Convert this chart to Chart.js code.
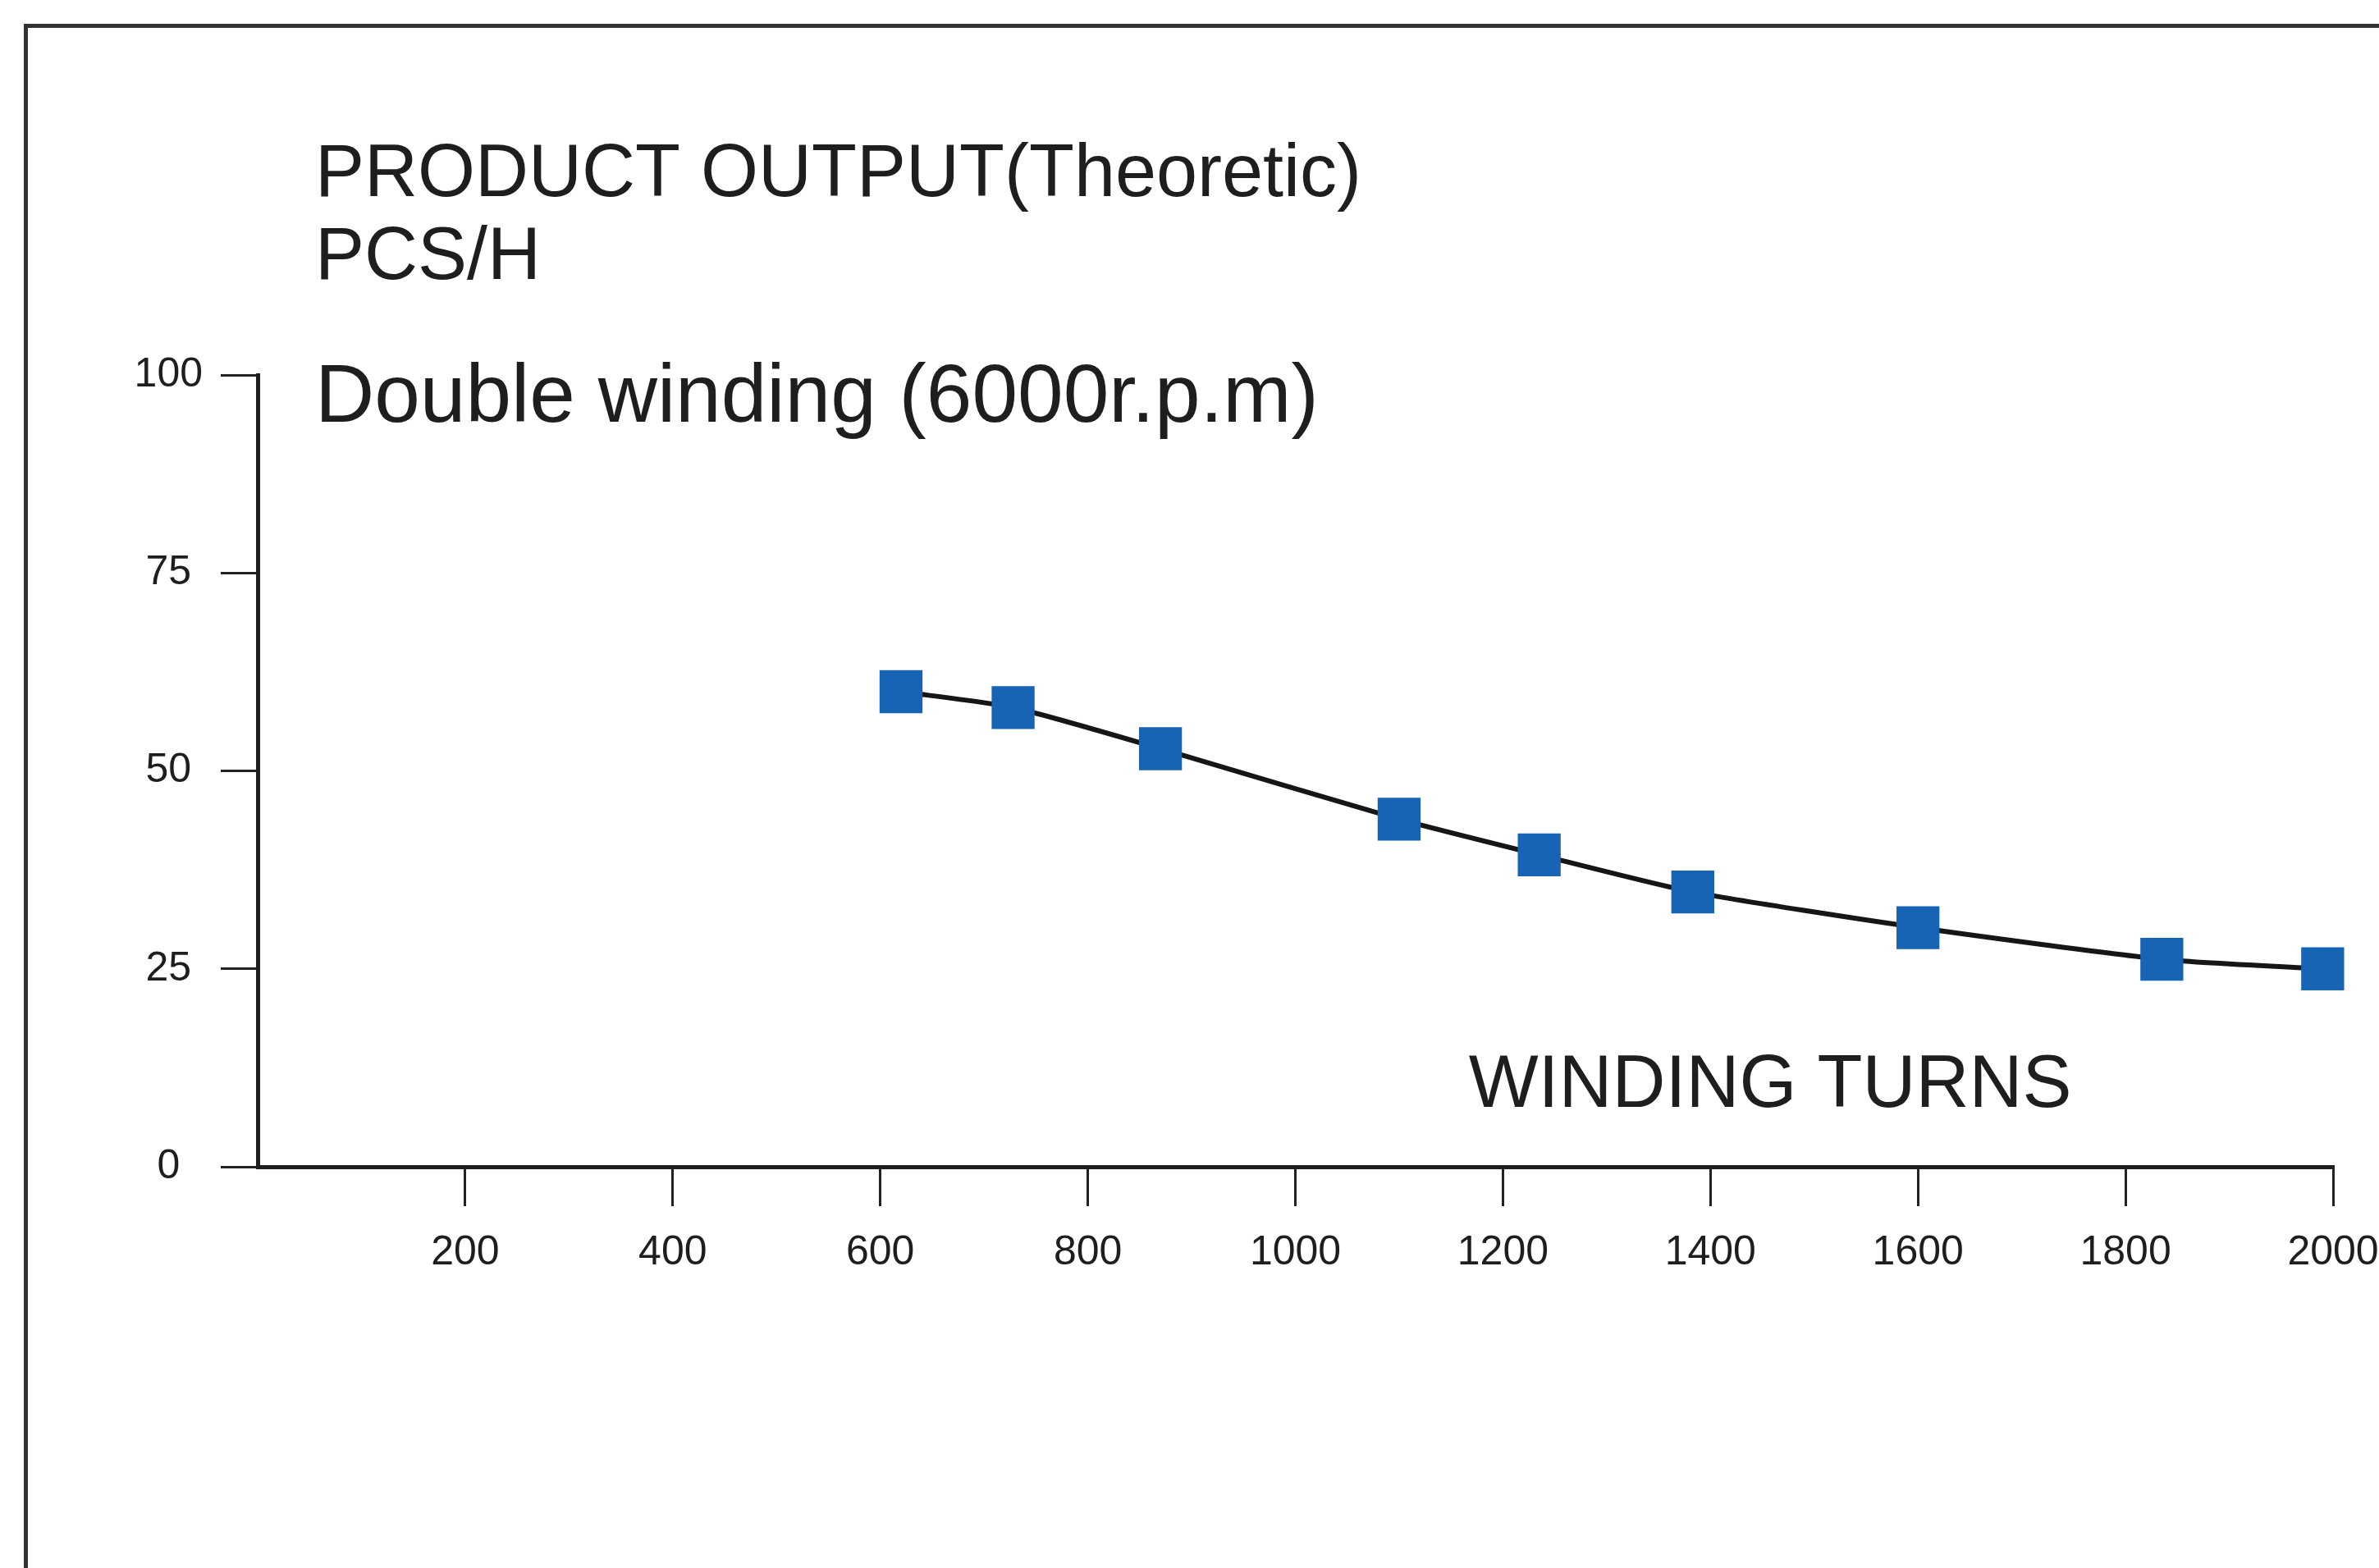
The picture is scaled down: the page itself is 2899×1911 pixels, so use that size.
<!DOCTYPE html>
<html>
<head>
<meta charset="utf-8">
<script src="https://cdn.jsdelivr.net/npm/chart.js@4/dist/chart.umd.min.js"></script>
<style>
  html, body { margin: 0; padding: 0; background: #fff; overflow: hidden; }
  #wrap { position: relative; width: 2899px; height: 1911px; }
  #frame {
    position: absolute; left: 29px; top: 29px;
    width: 3000px; height: 2000px;
    border: 5px solid #333; box-sizing: border-box;
  }
  #wrap canvas { position: absolute; left: 0; top: 0; }
</style>
</head>
<body>
<div id="wrap">
  <div id="frame"></div>
  <canvas id="outputChart" width="2899" height="1911"></canvas>
</div>
<script>
// Namotaji i proizvodnja (očitano sa slike)
const windingTurns = [620, 728, 870, 1100, 1235, 1383, 1600, 1835, 1990];
const pcsPerHour = [60, 58, 52.8, 43.9, 39.4, 34.7, 30.2, 26.2, 25.0];

const yTicks = [0, 25, 50, 75, 100];
const xTicks = [0, 200, 400, 600, 800, 1000, 1200, 1400, 1600, 1800, 2000];

const titleLines = ['PRODUCT OUTPUT(Theoretic)', 'PCS/H'];
const subTitle = 'Double winding (6000r.p.m)';
const xTitle = 'WINDING TURNS';

const FONT = '"Liberation Sans", Arial, Helvetica, sans-serif';
const INK = '#1e1e1e';

// tekstovi unutar grafa
const textPlugin = {
  id: 'chartTexts',
  afterDraw(chart) {
    const { ctx, chartArea } = chart;
    const left = chartArea.left + 70;
    ctx.save();
    ctx.fillStyle = INK;
    ctx.textAlign = 'left';
    ctx.textBaseline = 'alphabetic';
    ctx.font = '90px ' + FONT;
    ctx.fillText(titleLines[0], left, chartArea.top - 218);
    ctx.fillText(titleLines[1], left, chartArea.top - 117);
    ctx.font = '100px ' + FONT;
    ctx.fillText(subTitle, left, chartArea.top + 57);
    ctx.font = '90px ' + FONT;
    ctx.fillText(xTitle, chart.scales.x.getPixelForValue(1167), chartArea.bottom - 73);
    ctx.restore();
  }
};

const points = windingTurns.map((x, i) => ({ x, y: pcsPerHour[i] }));

new Chart(document.getElementById('outputChart'), {
  type: 'line',
  data: {
    datasets: [{
      data: points,
      borderColor: '#161616',
      borderWidth: 6,
      tension: 0.2,
      pointStyle: 'rect',
      pointRadius: 37,
      pointHoverRadius: 37,
      pointBackgroundColor: '#1764b5',
      pointBorderColor: '#1764b5',
      pointBorderWidth: 0,
      clip: false
    }]
  },
  options: {
    responsive: false,
    animation: false,
    events: [],
    layout: { padding: { left: 114, top: 457, right: 56, bottom: 289 } },
    plugins: {
      legend: { display: false },
      tooltip: { enabled: false },
      title: { display: false }
    },
    scales: {
      x: {
        type: 'linear',
        min: 0,
        max: 2000,
        afterFit: s => { s.height = 200; s.paddingLeft = 0; s.paddingRight = 40; },
        afterBuildTicks: s => { s.ticks = xTicks.map(v => ({ value: v })); },
        border: { display: true, color: '#1e1e1e', width: 5 },
        grid: {
          drawOnChartArea: false,
          drawTicks: true,
          tickLength: 48,
          lineWidth: 3,
          tickColor: c => (c.tick && c.tick.value === 0 ? 'rgba(0,0,0,0)' : '#222')
        },
        ticks: {
          autoSkip: false,
          maxRotation: 0,
          padding: 27,
          color: INK,
          font: { family: FONT, size: 50 },
          callback: v => (v === 0 ? '' : String(v))
        }
      },
      y: {
        type: 'linear',
        min: 0,
        max: 100,
        afterFit: s => { s.width = 200; },
        afterBuildTicks: s => { s.ticks = yTicks.map(v => ({ value: v })); },
        border: { display: true, color: '#1e1e1e', width: 5 },
        grid: {
          drawOnChartArea: false,
          drawTicks: true,
          tickLength: 45,
          lineWidth: 3,
          tickColor: '#222'
        },
        ticks: {
          padding: 22,
          crossAlign: 'center',
          color: INK,
          font: { family: FONT, size: 50 }
        }
      }
    }
  },
  plugins: [textPlugin]
});
</script>
</body>
</html>
